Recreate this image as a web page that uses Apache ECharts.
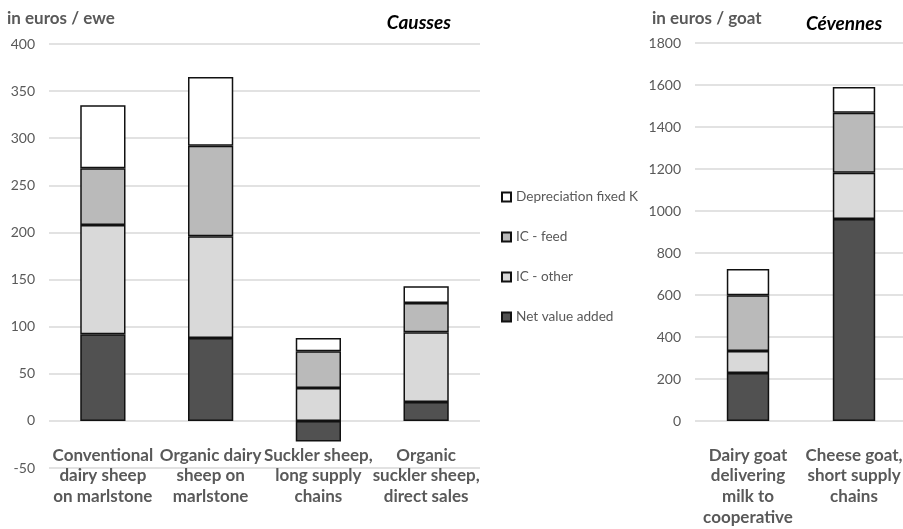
<!DOCTYPE html>
<html><head><meta charset="utf-8">
<script src="https://cdn.jsdelivr.net/npm/echarts@6/dist/echarts.min.js"></script>
<style>html,body{margin:0;padding:0;background:#fff}#c{width:903px;height:529px}</style>
</head><body><div id="c"></div>
<script>
const seriesNames = ['Net value added', 'IC - other', 'IC - feed', 'Depreciation fixed K'];
const colors = ['#515151', '#d9d9d9', '#bababa', '#ffffff'];
const legendOrder = ['Depreciation fixed K', 'IC - feed', 'IC - other', 'Net value added'];

const caussesCategories = ['Conventional\ndairy sheep\non marlstone', 'Organic dairy\nsheep on\nmarlstone', 'Suckler sheep,\nlong supply\nchains', 'Organic\nsuckler sheep,\ndirect sales'];
const caussesNet = [92, 88, -22, 20];
const caussesOther = [116, 108, 35, 74];
const caussesFeed = [60, 96, 39, 31];
const caussesDep = [67, 73, 14, 18];
const caussesTicks = [-50, 0, 50, 100, 150, 200, 250, 300, 350, 400];

const cevennesCategories = ['Dairy goat\ndelivering\nmilk to\ncooperative', 'Cheese goat,\nshort supply\nchains'];
const cevennesNet = [228, 962];
const cevennesOther = [105, 220];
const cevennesFeed = [266, 286];
const cevennesDep = [125, 122];
const cevennesTicks = [0, 200, 400, 600, 800, 1000, 1200, 1400, 1600, 1800];

const FONT = 'Lato, "Open Sans", sans-serif';
const GRAY = '#595959';

const caussesData = [caussesNet, caussesOther, caussesFeed, caussesDep];
const cevennesData = [cevennesNet, cevennesOther, cevennesFeed, cevennesDep];

function mkSeries(dataSets, axisIdx, stackName, bw) {
  return seriesNames.map((n, i) => ({
    name: n, type: 'bar', stack: stackName,
    xAxisIndex: axisIdx, yAxisIndex: axisIdx,
    barWidth: bw,
    data: dataSets[i],
    itemStyle: { color: colors[i], borderColor: '#111', borderWidth: 1.5 },
    emphasis: { disabled: true }
  }));
}

function yAxisCfg(grid, ticks) {
  return {
    type: 'value', gridIndex: grid,
    min: ticks[0], max: ticks[ticks.length - 1], interval: ticks[1] - ticks[0],
    axisLine: { show: false }, axisTick: { show: false },
    axisLabel: { color: GRAY, fontFamily: FONT, fontSize: 14, margin: 14, formatter: v => String(v) },
    splitLine: { lineStyle: { color: '#d9d9d9', width: 1.5 } }
  };
}
function xAxisCfg(grid, cats, showLabels) {
  return {
    type: 'category', gridIndex: grid, data: cats,
    axisLine: { show: false }, axisTick: { show: false },
    axisLabel: { show: showLabels, interval: 0, color: GRAY, fontFamily: FONT, fontSize: 17, fontWeight: 'bold', lineHeight: 20.6, margin: 24 }
  };
}

const chart = echarts.init(document.getElementById('c'), null, { renderer: 'canvas' });
chart.setOption({
  animation: false,
  backgroundColor: '#fff',
  title: [
    { text: 'in euros / ewe', left: 7, top: 10, padding: 0, textStyle: { color: GRAY, fontFamily: FONT, fontSize: 17, fontWeight: 'bold' } },
    { text: 'Causses', right: 452, top: 13, padding: 0, textStyle: { color: '#000', fontFamily: FONT, fontSize: 19, fontWeight: 'bold', fontStyle: 'italic' } },
    { text: 'in euros / goat', left: 652, top: 10, padding: 0, textStyle: { color: GRAY, fontFamily: FONT, fontSize: 17, fontWeight: 'bold' } },
    { text: 'Cévennes', left: 806, top: 14, padding: 0, textStyle: { color: '#000', fontFamily: FONT, fontSize: 19, fontWeight: 'bold', fontStyle: 'italic' } }
  ],
  legend: {
    data: legendOrder, orient: 'vertical', left: 496, top: 185,
    icon: 'rect', itemWidth: 9, itemHeight: 9, itemGap: 26,
    textStyle: { color: GRAY, fontFamily: FONT, fontSize: 13.6 },
    selectedMode: false
  },
  grid: [
    { left: 49, width: 431, top: 44, height: 424, outerBoundsMode: 'none', containLabel: false },
    { left: 695, width: 212, top: 43, height: 378, outerBoundsMode: 'none', containLabel: false },
    // label-only overlay for Causses: same width, bottom edge at the zero line
    { left: 49, width: 431, top: 44, height: 377, outerBoundsMode: 'none', containLabel: false }
  ],
  xAxis: [xAxisCfg(0, caussesCategories, false), xAxisCfg(1, cevennesCategories, true), xAxisCfg(2, caussesCategories, true)],
  yAxis: [yAxisCfg(0, caussesTicks), yAxisCfg(1, cevennesTicks),
    { type: 'value', gridIndex: 2, min: 0, max: 400, show: false, splitLine: { show: false } }],
  series: [].concat(mkSeries(caussesData, 0, 'a', '42%'), mkSeries(cevennesData, 1, 'b', '40%'))
});
</script></body></html>
